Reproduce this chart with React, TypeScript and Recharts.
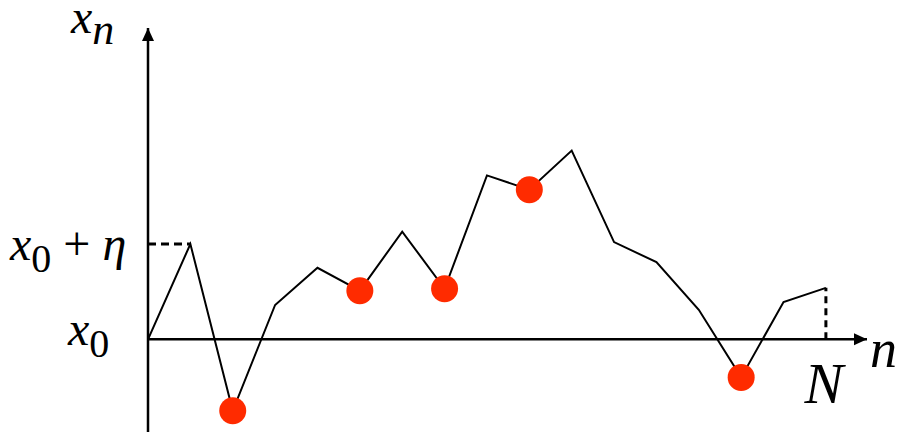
import React from 'react'
import { LineChart, Line, XAxis, YAxis, ReferenceLine, ReferenceDot } from 'recharts'

// random walk x_n, in units where x_0 = 0 and x_0 + η = 1
const STEPS = [0, 1, 2, 3, 4, 5, 6, 7, 8, 9, 10, 11, 12, 13, 14, 15, 16]
const WALK = [0, 1.0, -0.75, 0.36, 0.75, 0.51, 1.13, 0.53, 1.72, 1.57, 1.98, 1.02, 0.81, 0.31, -0.4, 0.39, 0.54]
const MARKED_STEPS = [2, 5, 7, 9, 14]

const Y_TICKS = [0, 1]
const Y_TICK_LABELS = ['x_0', 'x_0 + η']
const Y_AXIS_LABEL = 'x_n'
const X_AXIS_LABEL = 'n'
const LAST_STEP_LABEL = 'N'

const X_DOMAIN: [number, number] = [0, 16.97]
const Y_DOMAIN: [number, number] = [-0.973, 3.267]

const RED = '#ff2b00'
const INK = '#000'
const FONT = 'Liberation Serif'

const rows = STEPS.map((n, i) => ({
  n,
  x: WALK[i],
  mark: MARKED_STEPS.includes(n) ? WALK[i] : null,
}))
const lastStep = STEPS[STEPS.length - 1]
const lastValue = WALK[WALK.length - 1]
const threshold = Y_TICKS[1]

// nudges for the two tick labels, same order as Y_TICKS
const TICK_NUDGE = [
  { dx: -80, dy: 6 },
  { dx: -138, dy: 16 },
]

// 'x_0 + η' -> runs of (text, subscript, italic); letters italic, digits and signs upright
function toRuns(text: string) {
  const runs: { t: string; sub: boolean; italic: boolean }[] = []
  for (let i = 0; i < text.length; i++) {
    let c = text[i]
    let sub = false
    if (c === '_') { c = text[i + 1]; sub = true; i++ }
    if (c === ' ') c = '\u00a0'
    const italic = /[A-Za-zη]/.test(c)
    const last = runs[runs.length - 1]
    if (last && last.sub === sub && (last.italic === italic || c === '\u00a0')) last.t += c
    else runs.push({ t: c, sub, italic })
  }
  return runs
}

function MathText({ x, y, text, size, subSize, subDy, anchor = 'start' }: {
  x: number; y: number; text: string; size: number; subSize: number; subDy: number; anchor?: 'start' | 'middle' | 'end'
}) {
  let down = false
  return (
    <text x={x} y={y} fill={INK} textAnchor={anchor} fontFamily={FONT} fontSize={size}>
      {toRuns(text).map((r, i) => {
        let dy = 0
        if (r.sub && !down) { dy = subDy; down = true }
        else if (!r.sub && down) { dy = -subDy; down = false }
        return (
          <tspan key={i} dy={dy} fontSize={r.sub ? subSize : size} fontStyle={r.italic ? 'italic' : 'normal'}>
            {r.t}
          </tspan>
        )
      })}
    </text>
  )
}

function Arrow({ cx, cy, dir }: { cx?: number; cy?: number; dir: 'up' | 'right' }) {
  const x = cx ?? 0
  const y = cy ?? 0
  const pts = dir === 'right'
    ? `${x},${y} ${x - 13},${y - 6} ${x - 13},${y + 6}`
    : `${x},${y} ${x - 6},${y + 13} ${x + 6},${y + 13}`
  return <polygon points={pts} fill={INK} />
}

function YTick(props: any) {
  const { x, y, payload } = props
  const i = Y_TICKS.indexOf(payload.value)
  if (i < 0) return null
  return (
    <MathText x={x + TICK_NUDGE[i].dx} y={y + TICK_NUDGE[i].dy} text={Y_TICK_LABELS[i]} size={48} subSize={40} subDy={12} />
  )
}

export default function App() {
  return (
    <div style={{ position: 'absolute', left: 0, top: 0, width: 902, height: 437, background: '#fff' }}>
      <LineChart width={902} height={437} data={rows} margin={{ top: 28, right: 35, bottom: 5, left: 0 }}>
        <XAxis dataKey="n" type="number" domain={X_DOMAIN} hide />
        <YAxis
          type="number"
          domain={Y_DOMAIN}
          ticks={Y_TICKS}
          width={148}
          tickLine={false}
          tickSize={0}
          tickMargin={0}
          axisLine={{ stroke: INK, strokeWidth: 2.5 }}
          tick={<YTick />}
          allowDataOverflow
        />
        <ReferenceLine segment={[{ x: 0, y: 0 }, { x: X_DOMAIN[1], y: 0 }]} stroke={INK} strokeWidth={2.5} />
        <ReferenceLine segment={[{ x: 0, y: threshold }, { x: STEPS[1], y: threshold }]} stroke={INK} strokeWidth={3} strokeDasharray="8 5" />
        <ReferenceLine segment={[{ x: lastStep, y: 0 }, { x: lastStep, y: lastValue }]} stroke={INK} strokeWidth={3} strokeDasharray="7 5" />
        <Line dataKey="x" stroke={INK} strokeWidth={2} dot={false} activeDot={false} isAnimationActive={false} />
        <Line dataKey="mark" stroke="none" dot={{ r: 13.5, fill: RED, stroke: 'none' }} activeDot={false} isAnimationActive={false} />
        <ReferenceDot x={X_DOMAIN[1]} y={0} shape={(p: any) => <Arrow cx={p.cx} cy={p.cy} dir="right" />} />
        <ReferenceDot x={0} y={Y_DOMAIN[1]} shape={(p: any) => <Arrow cx={p.cx} cy={p.cy} dir="up" />} />
        <ReferenceDot x={0} y={Y_DOMAIN[1]} shape={(p: any) => (
          <MathText x={p.cx - 77} y={p.cy + 5} text={Y_AXIS_LABEL} size={48} subSize={44} subDy={11} />
        )} />
        <ReferenceDot x={X_DOMAIN[1]} y={0} shape={(p: any) => (
          <MathText x={p.cx + 3} y={p.cy + 28} text={X_AXIS_LABEL} size={54} subSize={40} subDy={11} />
        )} />
        <ReferenceDot x={lastStep} y={0} shape={(p: any) => (
          <MathText x={p.cx - 2} y={p.cy + 64} text={LAST_STEP_LABEL} size={58} subSize={40} subDy={11} anchor="middle" />
        )} />
      </LineChart>
    </div>
  )
}
